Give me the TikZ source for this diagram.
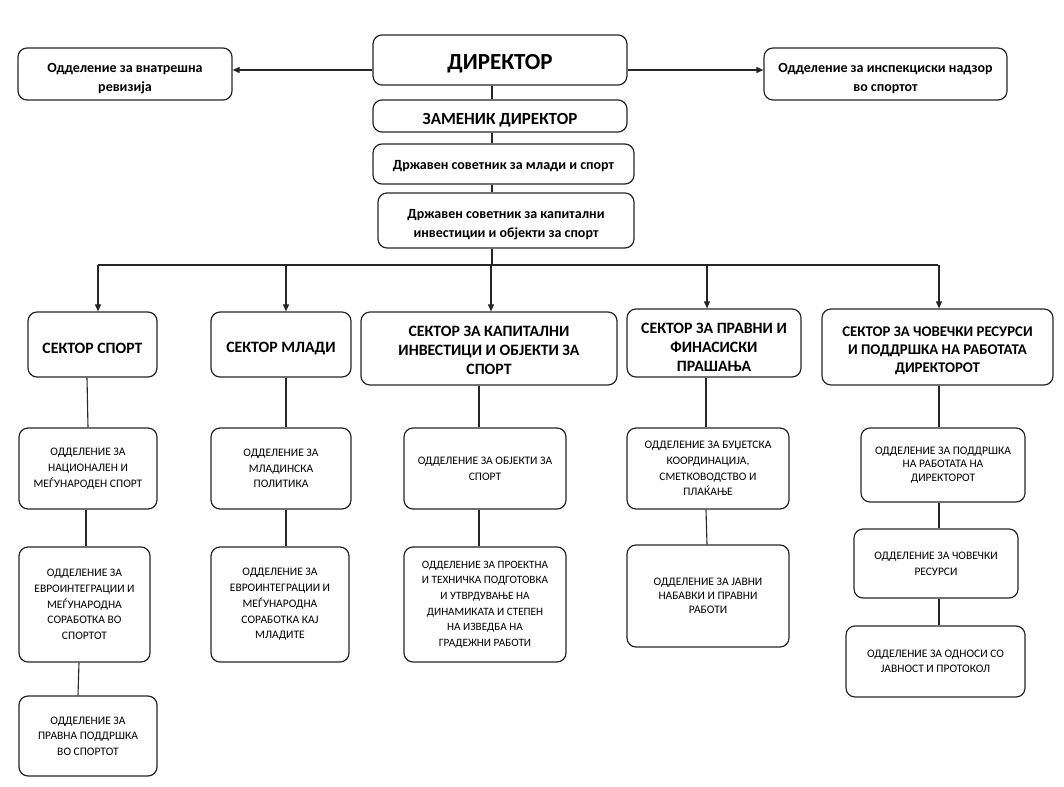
\documentclass[tikz,border=0pt]{standalone}
\usepackage{fontspec}
\setmainfont{Carlito}
\usetikzlibrary{arrows.meta}
\begin{document}
\begin{tikzpicture}
        [x=1pt,y=-1pt,
         box/.style={draw=black!85,line width=1.2pt,rounded corners=9pt,align=center,inner sep=0pt},
         txt/.style={align=center,inner sep=0pt},
         big/.style={txt,font={\bfseries\fontsize{14}{19}\selectfont}},
         sec/.style={txt,font={\bfseries\fontsize{15.8}{19}\selectfont}},
         dept/.style={box,font={\fontsize{11.5}{15.7}\selectfont}},
         link/.style={draw=black!85,line width=1.1pt},
         arr/.style={link,-{Triangle[length=7pt,width=6pt]}}]
        \useasboundingbox (0,0) rectangle (1064,786);

        \node[box,minimum width=254,minimum height=50] (dir) at (500,60) {};
        \node[txt,font={\bfseries\fontsize{23}{26}\selectfont}] (dirtext) at ([yshift=-4pt]dir) {ДИРЕКТОР};
        \node[box,minimum width=214,minimum height=52] (intrev) at (125,74) {};
        \node[big] (intrevtext) at ([yshift=-5pt]intrev) {Одделение за внатрешна\\ревизија};
        \node[box,minimum width=243,minimum height=52] (insp) at (885.5,74) {};
        \node[big] (insptext) at ([yshift=-5pt]insp) {Одделение за инспекциски надзор\\во спортот};
        \node[box,minimum width=254,minimum height=32] (zam) at (500,116) {};
        \node[txt,font={\bfseries\fontsize{17}{19}\selectfont}] (zamtext) at ([yshift=-4pt]zam) {ЗАМЕНИК ДИРЕКТОР};
        \node[box,minimum width=261,minimum height=40] (sov1) at (503.5,164) {};
        \node[big] (sov1text) at ([yshift=-2pt]sov1) {Државен советник за млади и спорт};
        \node[box,minimum width=256,minimum height=55] (sov2) at (506,220.5) {};
        \node[big] (sov2text) at ([yshift=-4pt]sov2) {Државен советник за капитални\\инвестиции и објекти за спорт};

        \draw[arr] ([yshift=-10pt]dir.west) -- ([yshift=-10pt]dir.west -| intrev.east);
        \draw[arr] ([yshift=-10pt]dir.east) -- ([yshift=-10pt]dir.east -| insp.west);
        \draw[link] (492,0 |- dir.south) -- (492,0 |- zam.north);
        \draw[link] (492,0 |- zam.south) -- (492,0 |- sov1.north);
        \draw[link] (492,0 |- sov1.south) -- (492,0 |- sov2.north);

        \node[box,minimum width=129,minimum height=65] (secsport) at (92.5,344.5) {};
        \node[sec] (secsporttext) at ([yshift=-4pt]secsport) {СЕКТОР СПОРТ};
        \node[box,minimum width=140,minimum height=65] (secmladi) at (281,344.5) {};
        \node[sec] (secmladitext) at ([yshift=-4pt]secmladi) {СЕКТОР МЛАДИ};
        \node[box,minimum width=256,minimum height=73] (seckap) at (489,348.5) {};
        \node[sec] (seckaptext) at ([yshift=-2pt]seckap) {СЕКТОР ЗА КАПИТАЛНИ\\ИНВЕСТИЦИ И ОБЈЕКТИ ЗА\\СПОРТ};
        \node[box,minimum width=174,minimum height=68] (secprav) at (714,343) {};
        \node[sec] (secpravtext) at ([yshift=-4pt]secprav) {СЕКТОР ЗА ПРАВНИ И\\ФИНАСИСКИ\\ПРАШАЊА};
        \node[box,minimum width=231,minimum height=76] (secchov) at (937.5,347) {};
        \node[sec,font={\bfseries\fontsize{14.8}{18}\selectfont}] (secchovtext) at ([yshift=-4pt]secchov) {СЕКТОР ЗА ЧОВЕЧКИ РЕСУРСИ\\И ПОДДРШКА НА РАБОТАТА\\ДИРЕКТОРОТ};

        \coordinate (bus) at (492,265);
        \draw[link] (492,0 |- sov2.south) -- (bus);
        \draw[link] (98,265) -- (938,265);
        \foreach \xx/\s in {98/secsport,286/secmladi,491/seckap,707/secprav,939/secchov}
        {\draw[arr] (\xx,265) -- (\xx,0 |- \s.north);}

        \node[dept,minimum width=138,minimum height=81] (sp1) at (88,468.5) {ОДДЕЛЕНИЕ ЗА\\НАЦИОНАЛЕН И\\МЕЃУНАРОДЕН СПОРТ};
        \node[dept,minimum width=131,minimum height=115] (sp2) at (84.5,604.5) {ОДДЕЛЕНИЕ ЗА\\ЕВРОИНТЕГРАЦИИ И\\МЕЃУНАРОДНА\\СОРАБОТКА ВО\\СПОРТОТ};
        \node[dept,minimum width=138,minimum height=80] (sp3) at (88,736) {ОДДЕЛЕНИЕ ЗА\\ПРАВНА ПОДДРШКА\\ВО СПОРТОТ};
        \node[dept,minimum width=140,minimum height=81] (ml1) at (281,468.5) {ОДДЕЛЕНИЕ ЗА\\МЛАДИНСКА\\ПОЛИТИКА};
        \node[dept,minimum width=138,minimum height=115] (ml2) at (280,604.5) {ОДДЕЛЕНИЕ ЗА\\ЕВРОИНТЕГРАЦИИ И\\МЕЃУНАРОДНА\\СОРАБОТКА КАЈ\\МЛАДИТЕ};
        \node[dept,minimum width=162,minimum height=81] (kp1) at (485,468.5) {ОДДЕЛЕНИЕ ЗА ОБЈЕКТИ ЗА\\СПОРТ};
        \node[dept,minimum width=162,minimum height=115,font={\fontsize{11.2}{15.7}\selectfont}] (kp2) at (485,604.5) {ОДДЕЛЕНИЕ ЗА ПРОЕКТНА\\И ТЕХНИЧКА ПОДГОТОВКА\\И УТВРДУВАЊЕ НА\\ДИНАМИКАТА И СТЕПЕН\\НА ИЗВЕДБА НА\\ГРАДЕЖНИ РАБОТИ};
        \node[dept,minimum width=162,minimum height=81] (pr1) at (708,468.5) {ОДДЕЛЕНИЕ ЗА БУЏЕТСКА\\КООРДИНАЦИЈА,\\СМЕТКОВОДСТВО И\\ПЛАЌАЊЕ};
        \node[dept,minimum width=162,minimum height=102,font={\fontsize{11.5}{13.7}\selectfont}] (pr2) at (708,596) {ОДДЕЛЕНИЕ ЗА ЈАВНИ\\НАБАВКИ И ПРАВНИ\\РАБОТИ};
        \node[dept,minimum width=164,minimum height=74,font={\fontsize{11.5}{13.5}\selectfont}] (hr1) at (943,465) {ОДДЕЛЕНИЕ ЗА ПОДДРШКА\\НА РАБОТАТА НА\\ДИРЕКТОРОТ};
        \node[dept,minimum width=164,minimum height=69] (hr2) at (936,563.5) {ОДДЕЛЕНИЕ ЗА ЧОВЕЧКИ\\РЕСУРСИ};
        \node[dept,minimum width=179,minimum height=71,font={\fontsize{11.5}{14.7}\selectfont}] (hr3) at (935.5,661.5) {ОДДЕЛЕНИЕ ЗА ОДНОСИ СО\\ЈАВНОСТ И ПРОТОКОЛ};

        \draw[link] (87,0 |- secsport.south) -- (88,0 |- sp1.north);
        \draw[link] (86,0 |- sp1.south) -- (86,0 |- sp2.north);
        \draw[link] (79,0 |- sp2.south) -- (78,0 |- sp3.north);
        \draw[link] (286,0 |- secmladi.south) -- (286,0 |- ml1.north);
        \draw[link] (286,0 |- ml1.south) -- (286,0 |- ml2.north);
        \draw[link] (479,0 |- seckap.south) -- (479,0 |- kp1.north);
        \draw[link] (479,0 |- kp1.south) -- (479,0 |- kp2.north);
        \draw[link] (706,0 |- secprav.south) -- (706,0 |- pr1.north);
        \draw[link] (706,0 |- pr1.south) -- (707,0 |- pr2.north);
        \draw[link] (939,0 |- secchov.south) -- (939,0 |- hr1.north);
        \draw[link] (939,0 |- hr1.south) -- (939,0 |- hr2.north);
        \draw[link] (939,0 |- hr2.south) -- (939,0 |- hr3.north);
      \end{tikzpicture}
\end{document}
